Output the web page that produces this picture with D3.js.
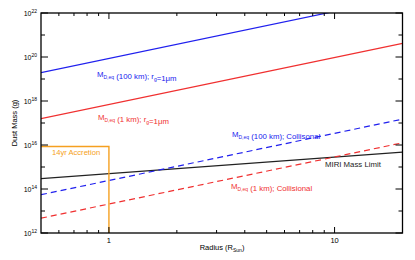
<!DOCTYPE html>
<html><head><meta charset="utf-8">
<script src="https://cdn.jsdelivr.net/npm/d3@7"></script>
<style>body{margin:0;background:#fff}svg{display:block}text{font-family:"Liberation Sans",Arial,sans-serif}</style>
</head><body><svg id="c" width="415" height="260"></svg>
<script>
const radiusEnds = [0.5, 20];
const massBlueSolid = [1.95e19, 5.2e22];
const massRedSolid = [1.57e17, 4.2e20];
const massBlueDashed = [5.5e13, 1.5e17];
const massRedDashed = [4.7e12, 1.26e16];
const massMiri = [2.95e14, 4.7e15];
const accretionRadius = [0.5, 1, 1];
const accretionMass = [8.5e15, 8.5e15, 1e12];
const yTickExps = [12,13,14,15,16,17,18,19,20,21,22];
const yLabelExps = [12,14,16,18,20,22];
const xMajor = [1, 10];
const xMinor = [0.6,0.7,0.8,0.9,2,3,4,5,6,7,8,9,20];

const L=41,R=402.5,T=13,B=233;
const svg=d3.select("#c");
const x=d3.scaleLog().domain([0.5,20]).range([L,R]);
const y=d3.scaleLog().domain([1e12,1e22]).range([B,T]);

svg.append("clipPath").attr("id","clip").append("rect").attr("x",L).attr("y",T).attr("width",R-L).attr("height",B-T);
const g=svg.append("g").attr("clip-path","url(#clip)");
const line=d3.line().x(d=>x(d[0])).y(d=>y(d[1]));
function series(ms,color,dash){
  g.append("path").datum(radiusEnds.map((r,i)=>[r,ms[i]])).attr("d",line)
   .attr("fill","none").attr("stroke",color).attr("stroke-width",1.2)
   .attr("stroke-dasharray",dash||null);
}
series(massMiri,"#222");
series(massBlueSolid,"#2020ee");
series(massRedSolid,"#f03030");
series(massBlueDashed,"#2020ee","6,4");
series(massRedDashed,"#f03030","6,4");
g.append("path").datum(accretionRadius.map((r,i)=>[r,accretionMass[i]])).attr("d",line)
 .attr("fill","none").attr("stroke","#f5a020").attr("stroke-width",1.4);

// axes
const ax=svg.append("g").attr("stroke","#000");
ax.append("rect").attr("x",L).attr("y",T).attr("width",R-L).attr("height",B-T).attr("fill","none").attr("stroke-width",1.3);
yTickExps.forEach(e=>{
  const yy=y(Math.pow(10,e)); const big=yLabelExps.includes(e);
  ax.append("line").attr("x1",L).attr("x2",L+(big?7:4)).attr("y1",yy).attr("y2",yy).attr("stroke-width",1);
  ax.append("line").attr("x1",R).attr("x2",R-(big?7:4)).attr("y1",yy).attr("y2",yy).attr("stroke-width",1);
});
xMajor.concat(xMinor).forEach(v=>{
  const xx=x(v); const big=xMajor.includes(v);
  const len=big?6:3;
  ax.append("line").attr("x1",xx).attr("x2",xx).attr("y1",B).attr("y2",B-len).attr("stroke-width",1);
  ax.append("line").attr("x1",xx).attr("x2",xx).attr("y1",T).attr("y2",T+len).attr("stroke-width",1);
});
yLabelExps.forEach(e=>{
  const yy=y(Math.pow(10,e));
  const t=svg.append("text").attr("x",37).attr("y",yy+2.5).attr("text-anchor","end").attr("font-size",7);
  t.append("tspan").text("10");
  t.append("tspan").attr("font-size",5).attr("dy",-3).text(e);
});
xMajor.forEach(v=>{
  svg.append("text").attr("x",x(v)).attr("y",243).attr("text-anchor","middle").attr("font-size",7.5).text(v);
});
// axis titles
const xt=svg.append("text").attr("x",222).attr("y",250).attr("text-anchor","middle").attr("font-size",7.5);
xt.append("tspan").text("Radius (R");
xt.append("tspan").attr("font-size",5).attr("dy",1.8).text("Sun");
xt.append("tspan").attr("dy",-1.8).text(")");
svg.append("text").attr("transform","translate(17,123) rotate(-90)").attr("text-anchor","middle").attr("font-size",7.5).text("Dust Mass (g)");

function label(xp,yp,color,parts){
  const t=svg.append("text").attr("x",xp).attr("y",yp).attr("font-size",7.8).attr("fill",color);
  parts.forEach(p=>{
    if(p.sub){t.append("tspan").attr("font-size",5).attr("dy",1.8).text(p.sub);t.append("tspan").attr("dy",-1.8).text("");}
    else t.append("tspan").text(p.t);
  });
}
label(97,77,"#2020ee",[{t:"M"},{sub:"D,eq"},{t:" (100 km); r"},{sub:"g"},{t:"=1\u03bcm"}]);
label(98,120,"#f03030",[{t:"M"},{sub:"D,eq"},{t:" (1 km); r"},{sub:"g"},{t:"=1\u03bcm"}]);
label(232,137,"#2020ee",[{t:"M"},{sub:"D,eq"},{t:" (100 km); Collisonal"}]);
label(231,189,"#f03030",[{t:"M"},{sub:"D,eq"},{t:" (1 km); Collisional"}]);
svg.append("text").attr("x",325).attr("y",166.5).attr("font-size",7.8).attr("fill","#222").text("MIRI Mass Limit");
svg.append("text").attr("x",52).attr("y",154.5).attr("font-size",7.6).attr("fill","#f5a020").text("14yr Accretion");
</script></body></html>
